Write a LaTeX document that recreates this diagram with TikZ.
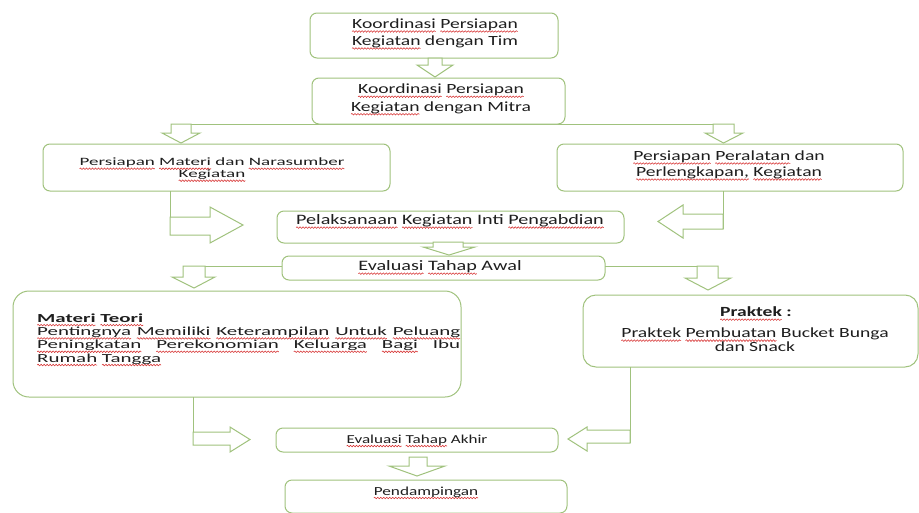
\documentclass[tikz,border=0pt]{standalone}
\usepackage{fontspec}
\setmainfont[FakeStretch=1.4]{Carlito}
\newfontfamily\widefont[FakeStretch=1.7]{Carlito}
\usetikzlibrary{decorations.pathmorphing}
\definecolor{sqred}{RGB}{215,50,50}
\definecolor{gline}{RGB}{160,194,125}
\definecolor{txt}{RGB}{30,30,30}
\newsavebox\sqbox
\newlength\sqlen
\newcommand\sq[1]{\sbox\sqbox{#1}\setlength\sqlen{\wd\sqbox}%
  \tikz[overlay,baseline=0pt]\draw[sqred,line width=0.55pt,decorate,decoration={snake,amplitude=0.8pt,segment length=3pt}] (0pt,-2.8pt)--(\sqlen,-2.8pt);%
  \usebox\sqbox}
\tikzset{
  box/.style={draw=gline, line width=1pt, rounded corners=7pt, fill=white, inner sep=0pt},
  bigbox/.style={box, rounded corners=16pt},
  blk/.style={draw=gline, line width=1pt, fill=white, line join=miter},
  ln/.style={draw=gline, line width=1pt},
  tx/.style={text=txt, align=center, inner sep=0pt},
}
\begin{document}
\begin{tikzpicture}[x=1pt,y=-1pt]
\path[use as bounding box] (0,0) rectangle (919,512);
\clip (0,0) rectangle (919,512);
\fill[white] (0,0) rectangle (919,512);

% connector lines (behind)
\draw[ln] (172,124) -- (734,124);
\draw[ln] (183,266) -- (282,266);
\draw[ln] (605,266) -- (718,266);

% boxes
\node[box, minimum width=248pt, minimum height=45pt] (b1) at (434,35.5) {};
\node[box, minimum width=253pt, minimum height=46pt] (b2) at (438.5,101) {};
\node[box, minimum width=347pt, minimum height=47pt] (b3) at (216.5,167.5) {};
\node[box, minimum width=346pt, minimum height=47pt] (b4) at (730,167.5) {};
\node[box, minimum width=347pt, minimum height=32pt] (b5) at (450.5,227) {};
\node[box, minimum width=323pt, minimum height=24pt] (b6) at (443.5,268) {};
\node[bigbox, minimum width=448pt, minimum height=106pt] (b7) at (237,344) {};
\node[box, rounded corners=13pt, minimum width=335pt, minimum height=72pt] (b8) at (750.5,331) {};
\node[box, minimum width=282pt, minimum height=24pt] (b9) at (417,440) {};
\node[box, minimum width=282pt, minimum height=33pt] (b10) at (426,496.5) {};

% vertical feeder lines
\draw[ln] (170,191) -- (170,235);
\draw[ln] (723,191) -- (723,229);
\draw[ln] (193,397) -- (193,445);
\draw[ln] (630,367) -- (630,443);

% block arrows
% b1 -> b2
\draw[blk] (428,58) -- (442,58) -- (442,65) -- (453,65) -- (435,77) -- (417,65) -- (428,65) -- cycle;
% line -> b3
\draw[blk] (171,124) -- (191,124) -- (191,133) -- (200,133) -- (181,143) -- (162,133) -- (171,133) -- cycle;
% line -> b4
\draw[blk] (713,124) -- (734,124) -- (734,133) -- (743,133) -- (723.5,143) -- (705,133) -- (713,133) -- cycle;
% b3 -> b5
\draw[blk] (170,217) -- (210,217) -- (210,207) -- (243,225) -- (210,243) -- (210,235) -- (170,235) -- cycle;
% b4 -> b5
\draw[blk] (723,214) -- (683,214) -- (683,205) -- (658,221.5) -- (683,238) -- (683,229) -- (723,229) -- cycle;
% b5 -> b6
\draw[blk] (433,242) -- (463,242) -- (463,247) -- (475,247) -- (449,255) -- (423,247) -- (433,247) -- cycle;
% b6 -> b7
\draw[blk] (183,266) -- (205,266) -- (205,277) -- (215,277) -- (194,288) -- (172,277) -- (183,277) -- cycle;
% b6 -> b8
\draw[blk] (697,266) -- (718,266) -- (718,278) -- (731,278) -- (708,290) -- (685,278) -- (697,278) -- cycle;
% b7 -> b9
\draw[blk] (193,432) -- (230,432) -- (230,427) -- (250,439.5) -- (230,452) -- (230,445) -- (193,445) -- cycle;
% b8 -> b9
\draw[blk] (630,430) -- (587,430) -- (587,427) -- (568,439) -- (587,451) -- (587,443) -- (630,443) -- cycle;
% b9 -> b10
\draw[blk] (409,457) -- (427,457) -- (427,466) -- (445,466) -- (417,476) -- (389,466) -- (409,466) -- cycle;

% texts
\node[tx, font=\fontsize{14}{17}\selectfont] (t1) at (435,33.5) {\sq{Koordinasi} \sq{Persiapan}\\\sq{Kegiatan} dengan Tim};
\node[tx, font=\fontsize{14}{17.5}\selectfont] (t2) at (441,99) {\sq{Koordinasi} \sq{Persiapan}\\\sq{Kegiatan} dengan Mitra};
\node[tx, font=\widefont\fontsize{11.2}{12}\selectfont] (t3) at (212,169) {\sq{Persiapan} \sq{Materi} dan \sq{Narasumber}\\\sq{Kegiatan}};
\node[tx, font=\fontsize{14}{16}\selectfont] (t4) at (729,165) {\sq{Persiapan} \sq{Peralatan} dan\\\sq{Perlengkapan,} \sq{Kegiatan}};
\node[tx, font=\fontsize{14.4}{17}\selectfont] (t5) at (450,221) {\sq{Pelaksanaan} \sq{Kegiatan} Inti \sq{Pengabdian}};
\node[tx, font=\fontsize{14.4}{17}\selectfont] (t6) at (440,267) {\sq{Evaluasi} \sq{Tahap} Awal};
\node[tx, align=left, anchor=north west, font=\widefont\fontsize{12.3}{13.3}\selectfont] (t7) at (37,313.5) {\textbf{\sq{Materi} \sq{Teori}}\\
\makebox[423pt][s]{\sq{Pentingnya} \sq{Memiliki} \sq{Keterampilan} \sq{Untuk} \sq{Peluang}}\\
\makebox[423pt][s]{\sq{Peningkatan} \sq{Perekonomian} \sq{Keluarga} \sq{Bagi} Ibu}\\
\sq{Rumah} \sq{Tangga}};
\node[tx, font=\fontsize{14}{14}\selectfont] (t8) at (756,312) {\textbf{\sq{Praktek} :}};
\node[tx, font=\fontsize{14}{14}\selectfont] (t8b) at (755,340) {\sq{Praktek} \sq{Pembuatan} Bucket Bunga\\dan Snack};
\node[tx, font=\fontsize{12.2}{15}\selectfont] (t9) at (417,440) {\sq{Evaluasi} \sq{Tahap} Akhir};
\node[tx, font=\fontsize{12.3}{15}\selectfont] (t10) at (426,492) {\sq{Pendampingan}};
\end{tikzpicture}
\end{document}
